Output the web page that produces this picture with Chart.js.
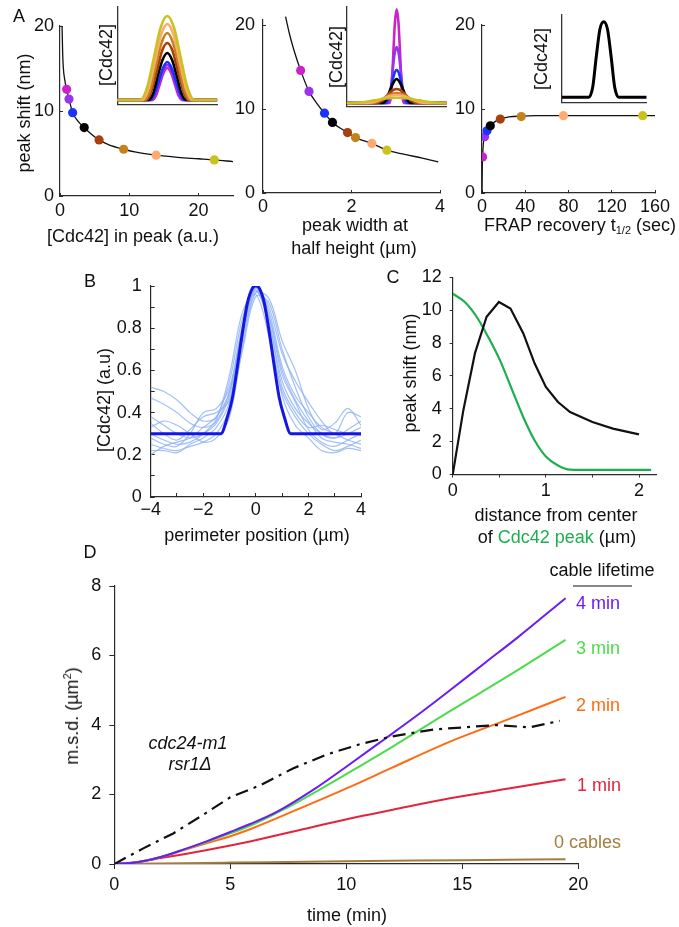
<!DOCTYPE html>
<html><head><meta charset="utf-8">
<script src="https://cdn.jsdelivr.net/npm/chart.js@4.4.0/dist/chart.umd.min.js"></script>
<style>
body{margin:0;background:#fff;width:679px;height:927px;overflow:hidden;position:relative;font-family:"Liberation Sans",Arial,Helvetica,sans-serif;color:#111}
canvas{position:absolute;left:0;top:0}
.t{position:absolute;font-size:18px;line-height:18px;white-space:nowrap;transform:translate(-50%,-50%)}
.r{transform:translate(-50%,-50%) rotate(-90deg)}
.l{transform:translate(0,-50%)}
.rt{transform:translate(-100%,-50%)}
</style></head><body>
<canvas id="a1" width="679" height="927"></canvas>
<canvas id="a1i" width="679" height="927"></canvas>
<canvas id="a2" width="679" height="927"></canvas>
<canvas id="a2i" width="679" height="927"></canvas>
<canvas id="a3" width="679" height="927"></canvas>
<canvas id="a3i" width="679" height="927"></canvas>
<canvas id="b" width="679" height="927"></canvas>
<canvas id="c" width="679" height="927"></canvas>
<canvas id="d" width="679" height="927"></canvas>

<div class="t" style="left:19px;top:16px">A</div>
<div class="t r" style="left:24px;top:113px">peak shift (nm)</div>
<div class="t r" style="left:106px;top:55px">[Cdc42]</div>
<div class="t r" style="left:336px;top:57px">[Cdc42]</div>
<div class="t r" style="left:541px;top:59px">[Cdc42]</div>
<div class="t" style="left:133px;top:236px">[Cdc42] in peak (a.u.)</div>
<div class="t" style="left:355px;top:225px">peak width at</div>
<div class="t" style="left:354px;top:248px">half height (µm)</div>
<div class="t" style="left:580px;top:226px">FRAP recovery t<span style="font-size:11px;position:relative;top:3px">1/2</span> (sec)</div>

<div class="t" style="left:90px;top:281px">B</div>
<div class="t r" style="left:104px;top:400px">[Cdc42] (a.u)</div>
<div class="t" style="left:257px;top:535px">perimeter position (µm)</div>

<div class="t" style="left:393px;top:277px">C</div>
<div class="t r" style="left:410px;top:373px">peak shift (nm)</div>
<div class="t" style="left:556px;top:515px">distance from center</div>
<div class="t" style="left:557px;top:537px">of <span style="color:#1fae4f">Cdc42 peak</span> (µm)</div>

<div class="t" style="left:90px;top:552px">D</div>
<div class="t r" style="left:72px;top:716px">m.s.d. (µm<sup style="font-size:11px;line-height:0">2</sup>)</div>
<div class="t" style="left:347px;top:915px">time (min)</div>
<div class="t" style="left:188px;top:743px;font-style:italic">cdc24-m1</div>
<div class="t" style="left:190px;top:764px;font-style:italic">rsr1Δ</div>
<div class="t" style="left:602px;top:570px">cable lifetime</div>
<div style="position:absolute;left:573px;top:585px;width:59px;height:1.5px;background:#888"></div>
<div class="t l" style="left:576px;top:603px;color:#6a1cf5">4 min</div>
<div class="t l" style="left:576px;top:648px;color:#4bdc4b">3 min</div>
<div class="t l" style="left:576px;top:705px;color:#ff6a12">2 min</div>
<div class="t l" style="left:577px;top:785px;color:#e3243a">1 min</div>
<div class="t rt" style="left:621px;top:842px;color:#a27d3f">0 cables</div>

<script>
const FONT = '"Liberation Sans", Arial, Helvetica, sans-serif';

// ---------- Panel A data ----------
const peakColors = ['#cc22cc','#9933ee','#1a33ff','#000000','#a8400e','#c4821c','#ffaa70','#c9c21e'];

const a1CurveX = [0.3,0.38,0.47,0.7,0.96,1.3,1.83,2.5,3.5,4.5,5.65,7,9.2,11,13.9,17,20,22.3,25];
const a1CurveY = [19.9,17.0,15.2,13.6,12.55,11.4,9.8,8.9,8.05,7.3,6.6,6.05,5.5,5.15,4.8,4.55,4.38,4.25,4.05];
const a1PointX = [0.96,1.3,1.83,3.5,5.65,9.2,13.9,22.3];
const a1PointY = [12.55,11.4,9.8,8.05,6.6,5.5,4.8,4.25];

const a2CurveX = [0.51,0.6,0.7,0.85,1.04,1.2,1.39,1.57,1.91,2.09,2.46,2.8,3.2,3.6,3.96];
const a2CurveY = [21.0,18.9,17.0,14.6,12.1,10.8,9.5,8.4,7.2,6.6,5.9,5.1,4.6,4.15,3.7];
const a2PointX = [0.85,1.04,1.39,1.57,1.91,2.09,2.46,2.8];
const a2PointY = [14.6,12.1,9.5,8.4,7.2,6.6,5.9,5.1];

const a3CurveX = [0,0.2,0.55,1.2,2.4,4.6,7.7,12,16.9,25,36.3,50,160];
const a3CurveY = [0,2.5,4.3,5.8,6.7,7.4,8.0,8.5,8.8,9.05,9.15,9.2,9.2];
const a3PointX = [0.55,2.4,4.6,7.7,16.9,36.3,75.3,148.6];
const a3PointY = [4.3,6.7,7.4,8.0,8.8,9.1,9.2,9.2];

const aTicksY = [0,10,20];
const a1TicksX = [0,10,20];
const a2TicksX = [0,2,4];
const a3TicksX = [0,40,80,120,160];

// Insets (order: magenta, purple, blue, black, brown-red, brown, peach, olive)
const a1InsetX = [
  [-50,-15,-11,-7.5,-3.8,0,3.8,7.5,11,15,50],
  [-50,-16,-12,-8,-4,0,4,8,12,16,50],
  [-50,-17,-13,-8.5,-4.3,0,4.3,8.5,13,17,50],
  [-50,-19,-14,-9.5,-4.8,0,4.8,9.5,14,19,50],
  [-50,-21,-16,-10.5,-5.3,0,5.3,10.5,16,21,50],
  [-50,-23,-17,-11.5,-5.8,0,5.8,11.5,17,23,50],
  [-50,-25,-19,-12.5,-6.3,0,6.3,12.5,19,25,50],
  [-50,-27,-20,-13.5,-6.8,0,6.8,13.5,20,27,50]
];
const a1InsetY = [
  [0,0,5,16,27,32,27,16,5,0,0],
  [0,0,5,18,30,35,30,18,5,0,0],
  [0,0,6,19,32,38,32,19,6,0,0],
  [0,0,7,24,40,47,40,24,7,0,0],
  [0,0,9,29,49,57,49,29,9,0,0],
  [0,0,10,34,57,67,57,34,10,0,0],
  [0,0,11,38,65,76,65,38,11,0,0],
  [0,0,13,42,72,84,72,42,13,0,0]
];
const a2InsetX = [
  [-50,-7,-5,-3.5,-1.8,0,1.8,3.5,5,7,50],
  [-50,-9,-6.5,-4.5,-2.3,0,2.3,4.5,6.5,9,50],
  [-50,-11,-8,-5.5,-2.8,0,2.8,5.5,8,11,50],
  [-50,-14,-10,-7,-3.5,0,3.5,7,10,14,50],
  [-50,-20,-15,-10,-5,0,5,10,15,20,50],
  [-50,-25,-19,-12.5,-6.3,0,6.3,12.5,19,25,50],
  [-50,-30,-22,-15,-7.5,0,7.5,15,22,30,50],
  [-50,-45,-34,-22.5,-11,0,11,22.5,34,45,50]
];
const a2InsetY = [
  [0,0,14,47,80,93.7,80,47,14,0,0],
  [0,0,8,28,48,56,48,28,8,0,0],
  [0,0,5,16,28,33,28,16,5,0,0],
  [0,0,4,12,20,24,20,12,4,0,0],
  [0,0,2,7,12,14,12,7,2,0,0],
  [0,0,1.5,5,8.5,10,8.5,5,1.5,0,0],
  [0,0,1.2,4,6.8,8,6.8,4,1.2,0,0],
  [0,0,0.8,2.6,4.5,5.3,4.5,2.6,0.8,0,0]
];
const a3InsetX = [-42,-15,-11,-7.5,-3.8,0,3.8,7.5,11,15,43];
const a3InsetY = [0,0,10,40,68,75.6,68,40,10,0,0];

// ---------- Panel B data ----------
const bX = [-4,-3.5,-3,-2.5,-2,-1.5,-1,-0.5,0,0.5,1,1.5,2,2.5,3,3.5,4];
const bTraces = [
  [0.52,0.50,0.46,0.40,0.36,0.38,0.55,0.85,0.98,0.82,0.55,0.42,0.35,0.30,0.28,0.30,0.33],
  [0.47,0.44,0.40,0.35,0.33,0.36,0.50,0.80,0.99,0.88,0.62,0.48,0.40,0.33,0.30,0.27,0.25],
  [0.38,0.34,0.30,0.28,0.30,0.35,0.48,0.78,1.00,0.90,0.68,0.55,0.45,0.36,0.30,0.40,0.38],
  [0.35,0.30,0.27,0.32,0.38,0.40,0.46,0.75,0.97,0.85,0.58,0.45,0.32,0.26,0.24,0.27,0.30],
  [0.30,0.27,0.25,0.26,0.30,0.37,0.58,0.88,0.96,0.76,0.50,0.38,0.30,0.25,0.22,0.24,0.27],
  [0.28,0.25,0.24,0.30,0.40,0.42,0.52,0.82,0.99,0.80,0.48,0.34,0.28,0.22,0.21,0.23,0.22],
  [0.25,0.23,0.22,0.24,0.26,0.30,0.42,0.70,0.95,0.92,0.70,0.52,0.38,0.30,0.28,0.32,0.36],
  [0.22,0.22,0.21,0.25,0.28,0.33,0.45,0.77,1.00,0.86,0.60,0.46,0.36,0.28,0.26,0.25,0.23],
  [0.20,0.24,0.26,0.28,0.33,0.38,0.50,0.80,0.98,0.83,0.52,0.40,0.33,0.34,0.32,0.30,0.29],
  [0.33,0.36,0.34,0.30,0.26,0.28,0.38,0.72,0.97,0.94,0.74,0.60,0.42,0.32,0.35,0.42,0.34]
];
const bFitX = [-4,-1.33,-1.08,-0.89,-0.7,-0.51,-0.32,-0.13,0,0.13,0.32,0.51,0.7,0.89,1.08,1.33,4];
const bFitY = [0.3,0.3,0.38,0.47,0.62,0.78,0.92,0.99,1,0.99,0.92,0.78,0.62,0.47,0.38,0.3,0.3];
const bTicksX = [-4,-3,-2,-1,0,1,2,3,4];
const bLabelsX = ['\u22124','','\u22122','','0','','2','','4'];
const bTicksY = [0,0.1,0.2,0.3,0.4,0.5,0.6,0.7,0.8,0.9,1];
const bLabelsY = ['0','','0.2','','0.4','','0.6','','0.8','','1'];

// ---------- Panel C data ----------
const cBlackX = [0,0.114,0.24,0.364,0.496,0.62,0.757,0.88,1.0,1.13,1.26,1.5,1.72,2.0];
const cBlackY = [0,3.9,7.4,9.6,10.5,10.1,8.6,6.75,5.33,4.41,3.8,3.19,2.79,2.44];
const cGreenX = [0,0.13,0.257,0.38,0.507,0.632,0.757,0.88,1.0,1.13,1.26,1.5,2.13];
const cGreenY = [11.0,10.5,9.6,8.38,6.96,5.23,3.5,2.07,1.1,0.55,0.3,0.28,0.28];
const cTicksX = [0,0.5,1,1.5,2];
const cLabelsX = ['0','','1','','2'];
const cTicksY = [0,2,4,6,8,10,12];

// ---------- Panel D data ----------
const dPurpleX = [0,1,2,3,4,5,5.85,7,8.72,10,11.6,13,14.47,16,17.35,19.45];
const dPurpleY = [0,0.05,0.2,0.42,0.66,0.92,1.15,1.5,2.2,2.8,3.57,4.25,5.0,5.8,6.5,7.65];
const dGreenX = [0,1,2,3,4,5,5.85,7,8,10.16,12,14.47,17,19.45];
const dGreenY = [0,0.05,0.2,0.42,0.64,0.88,1.1,1.47,1.82,2.65,3.38,4.4,5.42,6.45];
const dOrangeX = [0,1,2,3,4,5,5.85,8,10.16,12,14.47,17,19.45];
const dOrangeY = [0,0.05,0.2,0.4,0.6,0.8,1.0,1.6,2.22,2.78,3.52,4.17,4.81];
const dRedX = [0,1,2,3,4,5,5.85,8,10.16,12,14.47,17,19.45];
const dRedY = [0,0.06,0.17,0.28,0.4,0.53,0.65,0.98,1.31,1.56,1.89,2.17,2.44];
const dBrownX = [0,5,10,15,19.45];
const dBrownY = [0,0.04,0.08,0.11,0.14];
const dDashX = [0,1.25,2.54,3.7,5,6.3,7.7,9.15,10.6,11.88,13.75,16.48,17.9,19.2];
const dDashY = [0,0.45,0.88,1.36,1.92,2.27,2.75,3.15,3.45,3.66,3.87,4.0,3.93,4.12];
const dTicksX = [0,5,10,15,20];
const dTicksY = [0,2,4,6,8];

// ---------- helpers ----------
function pts(xs, ys){ return xs.map((x,i)=>({x:x, y:ys[i]})); }

function scale(min, max, ticks, labels, tl, pad, show){
  return {
    type:'linear', min:min, max:max,
    afterBuildTicks: s => { s.ticks = ticks.map(v => ({value:v})); },
    ticks:{display:show, padding:pad, color:'#111', autoSkip:false, maxRotation:0, minRotation:0,
      font:{family:FONT, size:18, lineHeight:1},
      callback:(v,i) => labels ? labels[i] : ''},
    grid:{display:true, drawOnChartArea:false, drawTicks:tl!==0, tickLength:tl, color:'#2a2a2a', lineWidth:1},
    border:{display:true, color:'#2a2a2a', width:1.2}
  };
}
function inset(min, max){
  return {type:'linear', min:min, max:max,
    afterBuildTicks: s => { s.ticks = []; },
    ticks:{display:false},
    grid:{display:true, drawOnChartArea:false, drawTicks:false},
    border:{display:true, color:'#333', width:1.3}};
}
function line(data, color, width, extra){
  return Object.assign({data:data, showLine:true, borderColor:color, backgroundColor:color,
    borderWidth:width, pointRadius:0, pointHoverRadius:0, fill:false, tension:0}, extra || {});
}
function dots(data, colors){
  return {data:data, showLine:false, pointRadius:4.6, pointHoverRadius:4.6,
    pointBackgroundColor:colors, pointBorderColor:colors, pointBorderWidth:0};
}
function makeChart(id, area, xs, ys, datasets){
  const W = area.w, H = area.h;
  xs.afterFit = s => { s.height = H; };
  ys.afterFit = s => { s.width = W; };
  new Chart(document.getElementById(id), {
    type:'scatter',
    data:{datasets:datasets},
    options:{
      responsive:false, animation:false, events:[],
      layout:{padding:{left:area.l - W, top:area.t, right:679 - area.r, bottom:927 - area.b - H}},
      plugins:{legend:{display:false}, tooltip:{enabled:false}},
      scales:{x:xs, y:ys}
    }
  });
}
const mono = {cubicInterpolationMode:'monotone'};

// ---------- Panel A ----------
makeChart('a1', {l:60, t:26, r:233, b:196, w:50, h:40},
  scale(0, 25, a1TicksX, ['0','10','20'], -3, 9, true),
  scale(0, 20, aTicksY, ['0','10','20'], -3, 9, true),
  [dots(pts(a1PointX, a1PointY), peakColors),
   line(pts(a1CurveX, a1CurveY), '#111', 1.3, mono)]);

makeChart('a2', {l:263, t:20, r:440, b:193, w:50, h:40},
  scale(0, 4, a2TicksX, ['0','2','4'], -3, 8, true),
  scale(0, 20.6, aTicksY, ['0','10','20'], -3, 11, true),
  [dots(pts(a2PointX, a2PointY), peakColors),
   line(pts(a2CurveX, a2CurveY), '#111', 1.3, Object.assign({clip:8}, mono))]);

makeChart('a3', {l:482, t:25, r:655, b:193, w:50, h:40},
  scale(0, 160, a3TicksX, ['0','40','80','120','160'], -3, 8, true),
  scale(0, 20, aTicksY, ['0','10','20'], -3, 10, true),
  [dots(pts(a3PointX, a3PointY), peakColors),
   line(pts(a3CurveX, a3CurveY), '#111', 1.3, mono)]);

function insetSets(xsArr, ysArr, w){
  const sets = [];
  for (let i = xsArr.length - 1; i >= 0; i--) {
    sets.push(line(pts(xsArr[i], ysArr[i]), peakColors[i], w, mono));
  }
  return sets;
}
makeChart('a1i', {l:117.3, t:6.7, r:217.3, b:105, w:0, h:0},
  inset(-50, 50), inset(-5, 93.3), insetSets(a1InsetX, a1InsetY, 2.6));
makeChart('a2i', {l:346.7, t:7, r:446.7, b:106.7, w:0, h:0},
  inset(-50, 50), inset(-3.7, 96), insetSets(a2InsetX, a2InsetY, 2.6));
makeChart('a3i', {l:561.7, t:15, r:646.7, b:102.7, w:0, h:0},
  inset(-42, 43), inset(-5.4, 82.3), [line(pts(a3InsetX, a3InsetY), '#000', 3, mono)]);

// ---------- Panel B ----------
const bSets = [line(pts(bFitX, bFitY), '#1515e6', 3, mono)];
bTraces.forEach(tr => bSets.push(line(pts(bX, tr), 'rgba(140,175,245,0.8)', 1.2, {tension:0.35})));
makeChart('b', {l:150.7, t:286, r:361, b:497, w:50, h:40},
  scale(-4, 4, bTicksX, bLabelsX, -4, 8, true),
  scale(0, 1, bTicksY, bLabelsY, -4, 13, true),
  bSets);

// ---------- Panel C ----------
makeChart('c', {l:452.7, t:277.3, r:656.7, b:474.5, w:50, h:40},
  scale(0, 2.19, cTicksX, cLabelsX, 3, 5, true),
  scale(0, 12, cTicksY, ['0','2','4','6','8','10','12'], 3, 8, true),
  [line(pts(cBlackX, cBlackY), '#111', 2.2),
   line(pts(cGreenX, cGreenY), '#1fae4f', 2.2, mono)]);

// ---------- Panel D ----------
makeChart('d', {l:114.3, t:586, r:578.3, b:864, w:60, h:40},
  scale(0, 20, dTicksX, ['0','5','10','15','20'], 5, 7, true),
  scale(0, 8, dTicksY, ['0','2','4','6','8'], 5, 8, true),
  [line(pts(dDashX, dDashY), '#111', 2.2, {borderDash:[13,6,3,6]}),
   line(pts(dPurpleX, dPurpleY), '#6a1cf5', 2, mono),
   line(pts(dGreenX, dGreenY), '#4bdc4b', 2, mono),
   line(pts(dOrangeX, dOrangeY), '#ff6a12', 2, mono),
   line(pts(dRedX, dRedY), '#e3243a', 2, mono),
   line(pts(dBrownX, dBrownY), '#a27d3f', 2, mono)]);
</script>
</body></html>
